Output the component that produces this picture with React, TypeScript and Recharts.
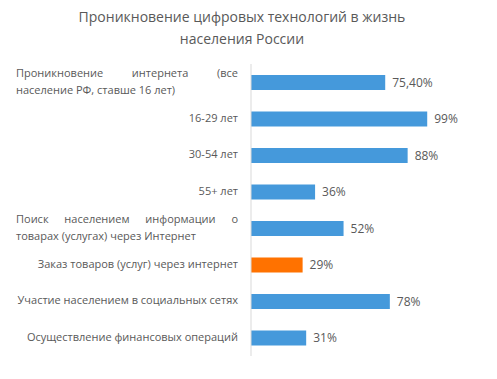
import React from "react";
import { BarChart, Bar, XAxis, YAxis, Cell, LabelList } from "recharts";

const TITLE_LINES = ["Проникновение цифровых технологий в жизнь", "населения России"];

const categories = [
  "Проникновение интернета (все\nнаселение РФ, ставше 16 лет)",
  "16-29 лет",
  "30-54 лет",
  "55+ лет",
  "Поиск населением информации о\nтоварах (услугах) через Интернет",
  "Заказ товаров (услуг) через интернет",
  "Участие населением в социальных сетях",
  "Осуществление финансовых операций",
];
const values = [75.4, 99, 88, 36, 52, 29, 78, 31];
const valueLabels = ["75,40%", "99%", "88%", "36%", "52%", "29%", "78%", "31%"];
const highlighted = [false, false, false, false, false, true, false, false];

const BLUE = "#4599DB";
const ORANGE = "#FF7200";
const TEXT = "#595959";
const FONT = "'Open Sans', sans-serif";
const LABEL_SIZE = 11;
const LABEL_WIDTH = 222;
const LINE_H = 17;

const data = categories.map((name, i) => ({
  name,
  value: values[i],
  label: valueLabels[i],
  hl: highlighted[i],
}));

let ctx: CanvasRenderingContext2D | null = null;
function measure(s: string): number {
  if (!ctx) {
    const c = document.createElement("canvas");
    ctx = c.getContext("2d");
  }
  if (!ctx) return s.length * 6;
  ctx.font = `${LABEL_SIZE}px 'Open Sans'`;
  return ctx.measureText(s).width;
}

const CategoryTick = (props: any) => {
  const { x, y, payload } = props;
  const lines = String(payload.value).split("\n");
  const n = lines.length;
  if (n === 1) {
    return (
      <text x={x} y={y + 3} textAnchor="end" fill={TEXT} fontSize={LABEL_SIZE} fontFamily={FONT}>
        {lines[0]}
      </text>
    );
  }
  const left = x - LABEL_WIDTH;
  const out: React.ReactNode[] = [];
  lines.forEach((line, i) => {
    const ly = y + 3 + (i - (n - 1) / 2) * LINE_H;
    if (i === n - 1) {
      out.push(
        <text key={i} x={left} y={ly} textAnchor="start" fill={TEXT} fontSize={LABEL_SIZE} fontFamily={FONT}>
          {line}
        </text>
      );
    } else {
      const words = line.split(" ");
      const widths = words.map(measure);
      const total = widths.reduce((a, b) => a + b, 0);
      const gap = words.length > 1 ? (LABEL_WIDTH - total) / (words.length - 1) : 0;
      let cx = left;
      words.forEach((w, j) => {
        out.push(
          <text key={`${i}-${j}`} x={cx} y={ly} textAnchor="start" fill={TEXT} fontSize={LABEL_SIZE} fontFamily={FONT}>
            {w}
          </text>
        );
        cx += widths[j] + gap;
      });
    }
  });
  return <g>{out}</g>;
};

export default function App() {
  return (
    <div style={{ position: "absolute", left: 0, top: 0, width: 497, height: 379, background: "#fff" }}>
      <div
        style={{
          position: "absolute",
          left: 0,
          top: 6,
          width: 484,
          textAlign: "center",
          fontFamily: FONT,
          fontSize: 14,
          lineHeight: "22px",
          color: TEXT,
        }}
      >
        {TITLE_LINES.map((t, i) => (
          <div key={i}>{t}</div>
        ))}
      </div>
      <BarChart
        width={497}
        height={379}
        data={data}
        layout="vertical"
        margin={{ top: 64, right: 68, bottom: 23, left: 0 }}
        barSize={15}
      >
        <XAxis type="number" domain={[0, 100]} hide />
        <YAxis
          type="category"
          dataKey="name"
          width={251}
          axisLine={{ stroke: "#D9D9D9" }}
          tickLine={false}
          tickSize={0}
          tickMargin={13}
          interval={0}
          tick={<CategoryTick />}
        />
        <Bar dataKey="value" isAnimationActive={false}>
          {data.map((d, i) => (
            <Cell key={i} fill={d.hl ? ORANGE : BLUE} />
          ))}
          <LabelList dataKey="label" position="right" offset={7} fill={TEXT} fontSize={12} fontFamily={FONT} />
        </Bar>
      </BarChart>
    </div>
  );
}
